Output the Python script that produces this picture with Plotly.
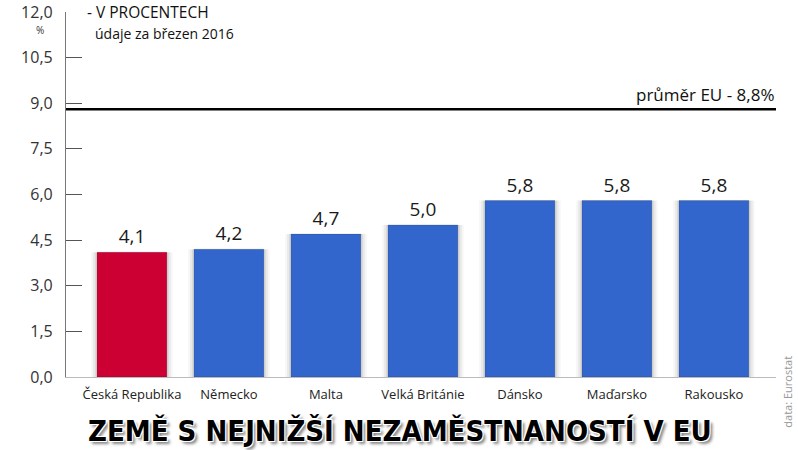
import plotly.graph_objects as go

zeme = ["Česká Republika", "Německo", "Malta", "Velká Británie", "Dánsko", "Maďarsko", "Rakousko"]
hodnoty = [4.1, 4.2, 4.7, 5.0, 5.8, 5.8, 5.8]
barvy = ["#CC0033", "#3366CC", "#3366CC", "#3366CC", "#3366CC", "#3366CC", "#3366CC"]
prumer_eu = 8.8
y_ticks = [0, 1.5, 3.0, 4.5, 6.0, 7.5, 9.0, 10.5, 12.0]

FONT = "Open Sans"

fig = go.Figure()

# měkký stín kolem sloupců
for w, a in [(0.84, 0.035), (0.80, 0.05), (0.76, 0.07)]:
    fig.add_trace(go.Bar(x=zeme, y=hodnoty, width=w, marker_color=f"rgba(0,0,0,{a})",
                         marker_line_width=0, hoverinfo="skip", showlegend=False))

fig.add_trace(go.Bar(
    x=zeme, y=hodnoty, width=0.72,
    marker=dict(color=barvy, line=dict(color="rgba(0,0,0,0.25)", width=0.6)),
    text=[f"{v:.1f}".replace(".", ",") for v in hodnoty],
    textposition="outside", textfont=dict(family=FONT, size=19, color="#1a1a1a"),
    cliponaxis=False, showlegend=False))

fig.add_shape(type="line", xref="paper", x0=0, x1=1, yref="y", y0=prumer_eu, y1=prumer_eu,
              line=dict(color="black", width=2.5))

fig.add_annotation(xref="paper", x=1, yref="y", y=prumer_eu, yshift=1,
                   text="průměr EU - " + f"{prumer_eu:.1f}".replace(".", ",") + "%",
                   showarrow=False, xanchor="right", yanchor="bottom",
                   font=dict(family=FONT, size=17, color="#111"))

fig.add_annotation(xref="paper", x=0.027, yref="paper", y=1.0, text="- V PROCENTECH",
                   showarrow=False, xanchor="left", yanchor="middle",
                   font=dict(family=FONT, size=15.5, color="#111"))
fig.add_annotation(xref="paper", x=0.038, yref="paper", y=0.94, text="údaje za březen 2016",
                   showarrow=False, xanchor="left", yanchor="middle",
                   font=dict(family=FONT, size=14, color="#111"))
fig.add_annotation(xref="paper", x=-0.037, yref="paper", y=0.952, text="%",
                   showarrow=False, xanchor="center", yanchor="middle",
                   font=dict(family=FONT, size=10, color="#333"))

fig.add_annotation(xref="paper", x=1.017, yref="paper", y=-0.04, text="data: Eurostat",
                   showarrow=False, textangle=-90, xanchor="center", yanchor="middle",
                   font=dict(family=FONT, size=11, color="#999"))

fig.add_annotation(xref="paper", x=0.47, yref="paper", y=-0.148,
                   text="<b>ZEMĚ S NEJNIŽŠÍ NEZAMĚSTNANOSTÍ V EU</b>",
                   showarrow=False, xanchor="center", yanchor="middle",
                   font=dict(family="DejaVu Sans Condensed", size=29, color="black",
                             shadow="1px 1px 0 #fff, -1px -1px 0 #fff, 1px -1px 0 #fff, -1px 1px 0 #fff, 3px 3px 3px #888"))

fig.update_layout(
    width=798, height=450,
    margin=dict(l=66, r=22, t=12, b=73),
    paper_bgcolor="white", plot_bgcolor="white",
    barmode="overlay", separators=", ",
    font=dict(family=FONT),
    xaxis=dict(range=[-0.68, 6.64], showgrid=False, zeroline=False, showline=True,
               linecolor="#bbb", linewidth=1, ticks="", automargin=False, ticklabelstandoff=5,
               tickfont=dict(family=FONT, size=13, color="#222")),
    yaxis=dict(range=[0, 12], tickvals=y_ticks, tickformat=".1f", showgrid=False,
               zeroline=False, showline=True, linecolor="#777", linewidth=1.2,
               ticks="inside", ticklen=16, tickcolor="#555", tickwidth=1.2, automargin=False,
               ticklabelstandoff=9,
               tickfont=dict(family=FONT, size=16, color="#333")),
)

# bez výchozího okraje stránky (8 px), aby graf seděl na celé okno
fig.write_html("out.html", config={"displayModeBar": False},
               post_script="document.body.style.margin='0';")
